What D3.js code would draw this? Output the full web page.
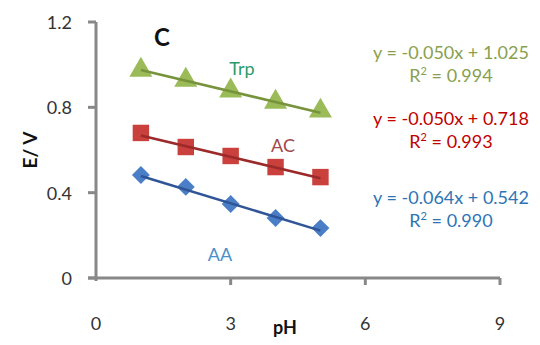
<!DOCTYPE html>
<html>
<head>
  <script src="https://d3js.org/d3.v7.min.js"></script>
  <style>
    body { margin: 0; background: #fff; }
    text { font-family: Lato, "Open Sans", sans-serif; }
  </style>
</head>
<body>
  <svg width="540" height="345"></svg>
  <script>
    const pH = [1, 2, 3, 4, 5];
    const trp = [0.975, 0.928, 0.877, 0.825, 0.783];
    const ac = [0.680, 0.614, 0.572, 0.520, 0.473];
    const aa = [0.483, 0.427, 0.347, 0.281, 0.234];
    const xTicks = [0, 3, 6, 9];
    const yTicks = [0, 0.4, 0.8, 1.2];

    const series = [
      { name: "Trp", vals: trp, slope: -0.050, icpt: 1.025, r2: "0.994", marker: "#9BBB59", line: "#77933C", eqColor: "#8A9F4E", label: "Trp", labColor: "#2E9A6A", shape: "triangle" },
      { name: "AC", vals: ac, slope: -0.050, icpt: 0.718, r2: "0.993", marker: "#C9403D", line: "#9C2A2A", eqColor: "#C00000", label: "AC", labColor: "#A04848", shape: "square" },
      { name: "AA", vals: aa, slope: -0.064, icpt: 0.542, r2: "0.990", marker: "#4A7EC6", line: "#2F5597", eqColor: "#2E75B6", label: "AA", labColor: "#4A90C8", shape: "diamond" }
    ];

    const svg = d3.select("svg");
    const x = d3.scaleLinear().domain([0, 9]).range([96, 500]);
    const y = d3.scaleLinear().domain([0, 1.2]).range([278, 22]);

    // axes
    const axisColor = "#888888";
    svg.append("line").attr("x1", x(0)).attr("x2", x(0)).attr("y1", y(1.2)).attr("y2", y(0) + 3)
      .attr("stroke", axisColor).attr("stroke-width", 3);
    svg.append("line").attr("x1", x(0) - 8).attr("x2", x(9)).attr("y1", y(0)).attr("y2", y(0))
      .attr("stroke", axisColor).attr("stroke-width", 3);

    svg.selectAll(".ytick").data(yTicks).enter().append("line")
      .attr("x1", x(0) - 8).attr("x2", x(0)).attr("y1", d => y(d)).attr("y2", d => y(d))
      .attr("stroke", axisColor).attr("stroke-width", 3);
    svg.selectAll(".xtick").data(xTicks.slice(1)).enter().append("line")
      .attr("x1", d => x(d)).attr("x2", d => x(d)).attr("y1", y(0)).attr("y2", y(0) + 7)
      .attr("stroke", axisColor).attr("stroke-width", 3);

    svg.selectAll(".ylab").data(yTicks).enter().append("text")
      .attr("x", x(0) - 24).attr("y", d => y(d) + 7)
      .attr("text-anchor", "end").attr("font-size", 18).attr("fill", "#333")
      .text(d => d === 0 ? "0" : d.toFixed(1));
    svg.selectAll(".xlab").data(xTicks).enter().append("text")
      .attr("x", d => x(d)).attr("y", 330)
      .attr("text-anchor", "middle").attr("font-size", 18).attr("fill", "#333")
      .text(d => d);

    svg.append("text").attr("transform", "translate(37,150) rotate(-90)")
      .attr("text-anchor", "middle").attr("font-size", 19).attr("font-weight", "bold").attr("fill", "#111")
      .text("E/ V");
    svg.append("text").attr("x", 285).attr("y", 334)
      .attr("text-anchor", "middle").attr("font-size", 18).attr("font-weight", "bold").attr("fill", "#111")
      .text("pH");
    svg.append("text").attr("x", 162).attr("y", 46)
      .attr("text-anchor", "middle").attr("font-size", 24).attr("font-weight", "bold").attr("fill", "#111")
      .text("C");

    const shapes = { triangle: d3.symbolTriangle, square: d3.symbolSquare, diamond: d3.symbolSquare };
    const sizes = { triangle: 230, square: 270, diamond: 160 };
    const rot = { triangle: 0, square: 0, diamond: 45 };

    series.forEach(s => {
      svg.selectAll(".m" + s.name).data(s.vals).enter().append("path")
        .attr("d", d3.symbol().type(shapes[s.shape]).size(sizes[s.shape]))
        .attr("transform", (d, i) => "translate(" + x(pH[i]) + "," + y(d) + ") rotate(" + rot[s.shape] + ")")
        .attr("fill", s.marker);
      // trendline over markers
      svg.append("line")
        .attr("x1", x(1)).attr("y1", y(s.slope * 1 + s.icpt))
        .attr("x2", x(5)).attr("y2", y(s.slope * 5 + s.icpt))
        .attr("stroke", s.line).attr("stroke-width", 2.5);
    });

    // series labels
    const labPos = { Trp: [242, 75], AC: [283, 152], AA: [220, 261] };
    series.forEach(s => {
      svg.append("text").attr("x", labPos[s.name][0]).attr("y", labPos[s.name][1])
        .attr("text-anchor", "middle").attr("font-size", 18).attr("fill", s.labColor)
        .text(s.label);
    });

    // equations
    const eqPos = { Trp: 59, AC: 125, AA: 204 };
    series.forEach(s => {
      const t = svg.append("text").attr("x", 451).attr("y", eqPos[s.name])
        .attr("text-anchor", "middle").attr("font-size", 18).attr("fill", s.eqColor);
      t.text("y = " + s.slope.toFixed(3) + "x + " + s.icpt.toFixed(3));
      const r = svg.append("text").attr("x", 451).attr("y", eqPos[s.name] + 23)
        .attr("text-anchor", "middle").attr("font-size", 18).attr("fill", s.eqColor);
      r.append("tspan").text("R");
      r.append("tspan").attr("font-size", 11).attr("dy", -7).text("2");
      r.append("tspan").attr("dy", 7).text(" = " + s.r2);
    });
  </script>
</body>
</html>
